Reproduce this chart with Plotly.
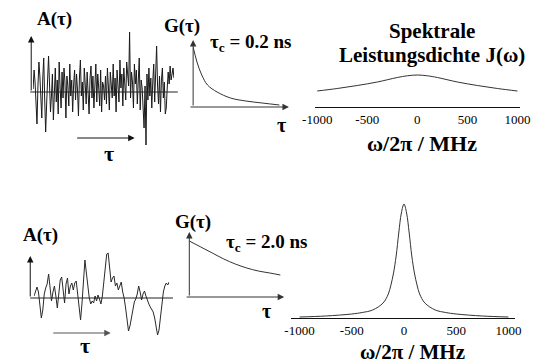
import plotly.graph_objects as go

W, H = 550, 364

# ---------------- data (arbitrary units) ----------------
noise_fast = [3, 22, 10, -18, -32, 6, 30, 16, -5, -26, 14, 34, -8, -40, -12, 24, 36, 8, -20, -4, 18, -28, 6, 24, -10,
              12, -22, 30, 4, -16, 20, -6, 24, 10, -26, 16, 6, -14, 28, -4, 12, -20, 8, 22, -8, 18, 2, -24, 14, 32,
              -4, 10, -18, 24, 8, -12, 20, 4, -22, 14, 26, -6, 16, -16, 8, 28, -10, 18, 4, -14, 22, -20, 10, 6, -8,
              16, -12, 24, 6, -18, 20, 10, -6, 28, -4, 14, -20, 22, 8, -10, 32, 4, 18, -14, 24, 12, -8, 30, 16, 6,
              60, -6, 20, 10, -16, 28, 8, 22, -12, 16, 34, -18, 12, 4, -24, -36, 6, -53, 18, -8, 24, -4, 14, -16, 10,
              28, -10, 20, 46, 6, -12, 16, -20, 12, 24, -6, 10, -22, -16, 4, 20, 8, 26, 12, 18, 24, 14]

noise_slow = [2, 8, 11, 6, -8, -20, -12, 4, 10, 14, 24, 10, -3, 6, 12, 2, -10, 4, 18, 21,
              5, -5, 14, 20, 4, 12, 15, 8, 15, 17, 4, -10, -22, -5, 20, 38, 25, 10, 0, -6,
              -3, -5, 2, -3, 3, -1, -6, 2, 18, 35, 44, 45, 30, 16, 20, 22, 12, 15, 8, 12,
              16, 6, 0, -10, -22, -33, -28, -18, -12, -4, -1, 4, 12, 6, -2, 4, 7, 2, -3, -6,
              -9, -12, -14, -20, -30, -37, -32, -20, -5, 6, 12, 15, 13, 16]

G_fast = [60, 45, 32, 22, 15, 9, 6, 4, 2]
G_fast_tau = [0, 4, 9, 15, 25, 39, 55, 72, 90]
G_slow = [56, 50, 44, 38, 33, 29, 26, 24, 22]
G_slow_tau = [0, 12, 24, 36, 48, 60, 72, 84, 95]

freq_fast = [-1000, -800, -600, -400, -200, -100, 0, 100, 200, 400, 600, 800, 1000]
J_fast = [16, 18.5, 21.5, 25, 29.5, 31.2, 32, 31.2, 29.5, 25, 21.5, 18.5, 16]

freq_slow = [-1000, -750, -500, -400, -300, -200, -150, -125, -100, -75, -50, -25, 0,
             25, 50, 75, 100, 125, 150, 200, 300, 400, 500, 750, 1000]
J_slow = [1, 2, 4, 5.5, 8, 15, 24, 33, 45, 62, 85, 105, 114,
          105, 85, 62, 45, 33, 24, 15, 8, 5.5, 4, 2, 1]

tick_vals = [-1000, -500, 0, 500, 1000]
tick_text = ["-1000", "-500", "0", "500", "1000"]

# ---------------- helpers ----------------
def PX(x):
    return x / W

def PY(y):
    return 1 - y / H

def dom_x(a, b):
    return [PX(a), PX(b)]

def dom_y(top, bottom):
    return [PY(bottom), PY(top)]

SERIF = "Liberation Serif"
LINE = "#1a1a1a"

fig = go.Figure()

fig.add_trace(go.Scatter(x=list(range(len(noise_fast))), y=noise_fast, mode="lines",
                         line=dict(color=LINE, width=1), xaxis="x", yaxis="y"))
fig.add_trace(go.Scatter(x=G_fast_tau, y=G_fast, mode="lines", line=dict(color="#333", width=1, shape="spline"),
                         xaxis="x2", yaxis="y2"))
fig.add_trace(go.Scatter(x=freq_fast, y=J_fast, mode="lines", line=dict(color="#333", width=1, shape="spline"),
                         xaxis="x3", yaxis="y3"))
fig.add_trace(go.Scatter(x=list(range(len(noise_slow))), y=noise_slow, mode="lines",
                         line=dict(color="#2a2a2a", width=1), xaxis="x4", yaxis="y4"))
fig.add_trace(go.Scatter(x=G_slow_tau, y=G_slow, mode="lines", line=dict(color="#333", width=1, shape="spline"),
                         xaxis="x5", yaxis="y5"))
fig.add_trace(go.Scatter(x=freq_slow, y=J_slow, mode="lines", line=dict(color="#333", width=1, shape="spline"),
                         xaxis="x6", yaxis="y6"))

hidden = dict(visible=False, showgrid=False, zeroline=False)

spec_x = dict(showline=True, linecolor="#111", linewidth=1, ticks="", showgrid=False, zeroline=False,
              tickvals=tick_vals, ticktext=tick_text,
              tickfont=dict(family=SERIF, size=13, color="#000"))

fig.update_layout(
    width=W, height=H, margin=dict(l=0, r=0, t=0, b=0),
    paper_bgcolor="white", plot_bgcolor="rgba(0,0,0,0)", showlegend=False,
    xaxis=dict(domain=dom_x(21, 168), range=[0, len(noise_fast) - 1], **hidden),
    yaxis=dict(domain=dom_y(32, 152), range=[-60, 60], anchor="x", **hidden),
    xaxis2=dict(domain=dom_x(188, 288), range=[0, 100], anchor="y2", **hidden),
    yaxis2=dict(domain=dom_y(40, 107), range=[0, 67], anchor="x2", **hidden),
    xaxis3=dict(domain=dom_x(315, 529), range=[-1024, 1024], anchor="y3", **spec_x),
    yaxis3=dict(domain=dom_y(60, 107), range=[0, 47], anchor="x3", **hidden),
    xaxis4=dict(domain=dom_x(22, 163), range=[0, len(noise_slow) - 1], anchor="y4", **hidden),
    yaxis4=dict(domain=dom_y(238, 358), range=[-60, 60], anchor="x4", **hidden),
    xaxis5=dict(domain=dom_x(184, 284), range=[0, 100], anchor="y5", **hidden),
    yaxis5=dict(domain=dom_y(232, 297), range=[0, 65], anchor="x5", **hidden),
    xaxis6=dict(domain=dom_x(290, 524), range=[-1083, 1064], anchor="y6", **spec_x),
    yaxis6=dict(domain=dom_y(200, 318), range=[0, 118], anchor="x6", **hidden),
)

ann = []

def text(x, y, s, size=19, anchor="center"):
    ann.append(dict(x=PX(x), y=PY(y), xref="paper", yref="paper", text="<b>" + s + "</b>", showarrow=False,
                    xanchor=anchor, yanchor="middle",
                    font=dict(family=SERIF, size=size, color="#000")))

def arrow(xt, yt, xh, yh, color="#111"):
    ann.append(dict(x=PX(xh), y=PY(yh), xref="paper", yref="paper", text="", showarrow=True,
                    ax=xt - xh, ay=yt - yh, arrowhead=2, arrowsize=1.3, arrowwidth=1,
                    arrowcolor=color, standoff=0))

shapes = []

def hline(x0, x1, y, color="#222"):
    shapes.append(dict(type="line", xref="paper", yref="paper", x0=PX(x0), x1=PX(x1), y0=PY(y), y1=PY(y),
                       line=dict(color=color, width=1)))

# top row decorations
hline(18, 172, 92)
arrow(19, 92, 19, 36)
arrow(68, 138, 127, 138)
arrow(188, 107, 188, 40, "#333")
arrow(188, 107, 288, 107, "#333")
text(43, 19, "A(τ)")
text(100, 153, "τ", size=22)
text(176, 26, "G(τ)")
text(203, 43, "τ<sub>c</sub> = 0.2 ns", size=19, anchor="left")
text(280, 125, "τ", size=20)
text(437, 31, "Spektrale", size=21)
text(437, 55, "Leistungsdichte J(ω)", size=21)
text(427, 144, "ω/2π / MHz", size=22)

# bottom row decorations
hline(18, 167, 298)
arrow(18, 298, 18, 256)
arrow(43, 333, 102, 333, "#555")
arrow(184, 297, 184, 232, "#333")
arrow(184, 297, 283, 297, "#333")
text(29, 235, "A(τ)")
text(75, 345, "τ", size=22)
text(188, 222, "G(τ)")
text(220, 243, "τ<sub>c</sub> = 2.0 ns", size=19, anchor="left")
text(265, 311, "τ", size=20)
text(417, 352, "ω/2π / MHz", size=21)

fig.update_layout(annotations=ann, shapes=shapes)

fig.write_html("out.html")
